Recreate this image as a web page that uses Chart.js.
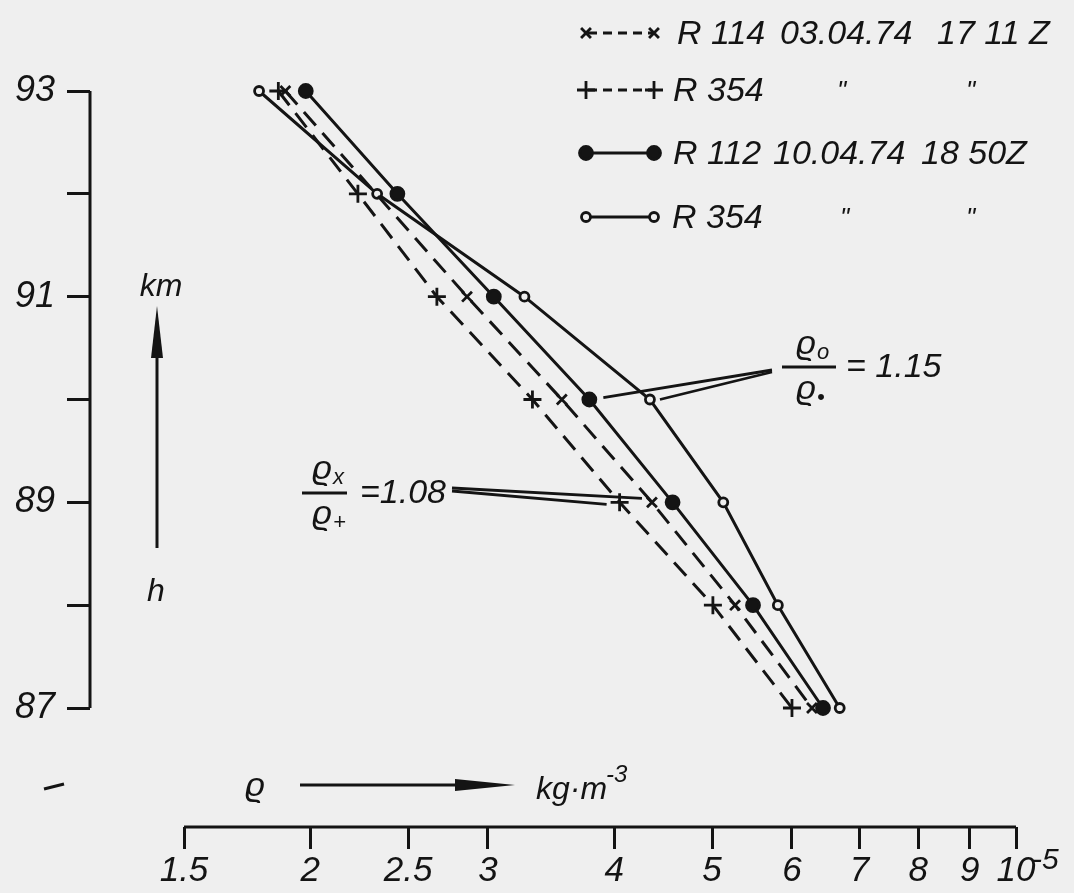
<!DOCTYPE html>
<html>
<head>
<meta charset="utf-8">
<script src="https://cdn.jsdelivr.net/npm/chart.js@4.4.1/dist/chart.umd.min.js"></script>
<style>
  html, body { margin: 0; padding: 0; background: #efefef; }
  canvas { display: block; }
</style>
</head>
<body>
<canvas id="rhoChart" width="1074" height="893"></canvas>
<script>
// heights in km, density in 1e-5 kg m^-3
const heights = [93, 92, 91, 90, 89, 88, 87];
const rhoR114 = [1.89, null, 2.86, 3.55, 4.36, 5.27, 6.28];
const rhoR354a = [1.86, 2.23, 2.67, 3.32, 4.05, 5.01, 6.00];
const rhoR112 = [1.98, 2.44, 3.04, 3.78, 4.57, 5.49, 6.44];
const rhoR354b = [1.78, 2.33, 3.26, 4.34, 5.13, 5.81, 6.69];
const xTicks = [1.5, 2, 2.5, 3, 4, 5, 6, 7, 8, 9, 10];
const yTicks = [87, 88, 89, 90, 91, 92, 93];
const yLabelled = [87, 89, 91, 93];

const ink = "#141414";
const bg = "#efefef";
const fam = "'Liberation Sans', Arial, sans-serif";

function toPoints(arr) {
    return heights.map(function (h, i) { return { x: arr[i], y: h }; })
        .filter(function (p) { return p.x !== null; });
}

let datasets = [
    { label: "R 114", data: toPoints(rhoR114), borderDash: [18, 10],
      pointStyle: "crossRot", pointRadius: 7, backgroundColor: ink },
    { label: "R 354", data: toPoints(rhoR354a), borderDash: [18, 10],
      pointStyle: "cross", pointRadius: 9, backgroundColor: ink },
    { label: "R 112", data: toPoints(rhoR112), borderDash: [],
      pointStyle: "circle", pointRadius: 6.5, backgroundColor: ink },
    { label: "R 354", data: toPoints(rhoR354b), borderDash: [],
      pointStyle: "circle", pointRadius: 4.5, backgroundColor: bg }
];
datasets.forEach(function (d) {
    d.borderColor = ink;
    d.borderWidth = 3;
    d.pointBorderColor = ink;
    d.pointBackgroundColor = d.backgroundColor;
    d.pointBorderWidth = 2.8;
    d.tension = 0;
    d.clip = false;
});

// legend rows: texts next to the sample markers
let legendRows = [
    { ds: 0, y: 33, texts: [["R 114", 677], ["03.04.74", 780], ["17 11 Z", 937]] },
    { ds: 1, y: 90, texts: [["R 354", 673], ["\"", 837], ["\"", 966]] },
    { ds: 2, y: 153, texts: [["R 112", 673], ["10.04.74", 773], ["18 50Z", 921]] },
    { ds: 3, y: 217, texts: [["R 354", 672], ["\"", 840], ["\"", 966]] }
];

function font(size) { return "italic " + size + "px " + fam; }

function txt(ctx, s, x, y, size, align) {
    ctx.font = font(size);
    ctx.textAlign = align || "left";
    ctx.textBaseline = "middle";
    ctx.fillText(s, x, y);
}

function rho(ctx, x, y, sub) {
    txt(ctx, "\u03F1", x, y, 34, "center");
    if (sub) txt(ctx, sub, x + 11, y + 8, 22, "left");
}

function line(ctx, x1, y1, x2, y2, w) {
    ctx.lineWidth = w || 2.8;
    ctx.beginPath();
    ctx.moveTo(x1, y1);
    ctx.lineTo(x2, y2);
    ctx.stroke();
}

function sample(ctx, ds, x, y) {
    Chart.helpers.drawPoint(ctx, { pointStyle: ds.pointStyle, radius: ds.pointRadius,
        rotation: 0, borderWidth: ds.pointBorderWidth }, x, y);
}

const decor = {
    id: "decor",
    afterDraw: function (chart) {
        const ctx = chart.ctx;
        const xs = chart.scales.x, ys = chart.scales.y;
        ctx.save();
        ctx.strokeStyle = ink;
        ctx.fillStyle = ink;
        ctx.setLineDash([]);

        // axis lines, only over the labelled range
        line(ctx, ys.right, ys.getPixelForValue(87), ys.right, ys.getPixelForValue(93), 3);
        line(ctx, xs.getPixelForValue(1.5), xs.top, xs.getPixelForValue(10), xs.top, 3);
        txt(ctx, "-5", xs.getPixelForValue(10) + 16, xs.top + 34, 30, "left");

        // h / km arrow
        line(ctx, 157, 548, 157, 330, 3);
        ctx.beginPath();
        ctx.moveTo(157, 306); ctx.lineTo(163, 358); ctx.lineTo(151, 358);
        ctx.closePath(); ctx.fill();
        txt(ctx, "km", 161, 287, 32, "center");
        txt(ctx, "h", 156, 592, 32, "center");

        // rho arrow
        line(ctx, 44, 789, 64, 784, 3);
        rho(ctx, 255, 787, "");
        line(ctx, 300, 785, 480, 785, 3);
        ctx.beginPath();
        ctx.moveTo(515, 785); ctx.lineTo(455, 779); ctx.lineTo(455, 791);
        ctx.closePath(); ctx.fill();
        txt(ctx, "kg\u00B7m", 536, 790, 32, "left");
        txt(ctx, "-3", 606, 775, 24, "left");

        // ratio rho_x / rho_+
        rho(ctx, 322, 470, "x");
        line(ctx, 302, 493, 347, 493, 2.8);
        rho(ctx, 322, 515, "+");
        txt(ctx, "=1.08", 360, 494, 34, "left");
        let px = { x: xs.getPixelForValue(rhoR114[4]), y: ys.getPixelForValue(89) };
        let pp = { x: xs.getPixelForValue(rhoR354a[4]), y: ys.getPixelForValue(89) };
        line(ctx, 452, 488, px.x - 10, px.y - 4, 2.8);
        line(ctx, 452, 491, pp.x - 13, pp.y + 2, 2.8);

        // ratio rho_o / rho_dot
        rho(ctx, 806, 345, "o");
        line(ctx, 782, 367, 836, 367, 2.8);
        rho(ctx, 806, 390, "\u2022");
        txt(ctx, "= 1.15", 846, 368, 34, "left");
        let pd = { x: xs.getPixelForValue(rhoR112[3]), y: ys.getPixelForValue(90) };
        let po = { x: xs.getPixelForValue(rhoR354b[3]), y: ys.getPixelForValue(90) };
        line(ctx, pd.x + 14, pd.y - 2, 772, 370, 2.8);
        line(ctx, po.x + 10, po.y, 772, 372, 2.8);

        // legend
        legendRows.forEach(function (row) {
            const ds = chart.data.datasets[row.ds];
            ctx.setLineDash(ds.borderDash.length ? [9, 6] : []);
            line(ctx, 588, row.y, 652, row.y, 2.8);
            ctx.setLineDash([]);
            ctx.fillStyle = ds.pointBackgroundColor;
            sample(ctx, ds, 586, row.y);
            sample(ctx, ds, 654, row.y);
            ctx.fillStyle = ink;
            row.texts.forEach(function (t) {
                txt(ctx, t[0], t[1], row.y + 2, t[0] === "\"" ? 26 : 34, "left");
            });
        });
        ctx.restore();
    }
};

new Chart(document.getElementById("rhoChart"), {
    type: "line",
    data: { datasets: datasets },
    plugins: [decor],
    options: {
        responsive: false,
        animation: false,
        devicePixelRatio: 1,
        layout: { padding: { top: 91, right: 58, bottom: 0, left: 0 } },
        plugins: { legend: { display: false }, tooltip: { enabled: false } },
        scales: {
            x: {
                type: "logarithmic",
                min: 1.2106,
                max: 10,
                position: "bottom",
                afterBuildTicks: function (s) { s.ticks = xTicks.map(function (v) { return { value: v }; }); },
                afterFit: function (s) { s.height = 66; },
                border: { display: false },
                grid: { drawOnChartArea: false, drawTicks: true, tickLength: 22, lineWidth: 3, color: ink },
                ticks: {
                    color: ink, autoSkip: false, maxRotation: 0, padding: 1,
                    font: { family: fam, size: 35, style: "italic" },
                    callback: function (v) { return String(v); }
                }
            },
            y: {
                type: "linear",
                min: 85.843,
                max: 93,
                position: "left",
                afterBuildTicks: function (s) { s.ticks = yTicks.map(function (v) { return { value: v }; }); },
                afterFit: function (s) { s.width = 90; },
                border: { display: false },
                grid: { drawOnChartArea: false, drawTicks: true, tickLength: 23, lineWidth: 3, color: ink },
                ticks: {
                    color: ink, autoSkip: false, padding: 12,
                    font: { family: fam, size: 36, style: "italic" },
                    callback: function (v) { return yLabelled.indexOf(v) >= 0 ? String(v) : ""; }
                }
            }
        }
    }
});
</script>
</body>
</html>
